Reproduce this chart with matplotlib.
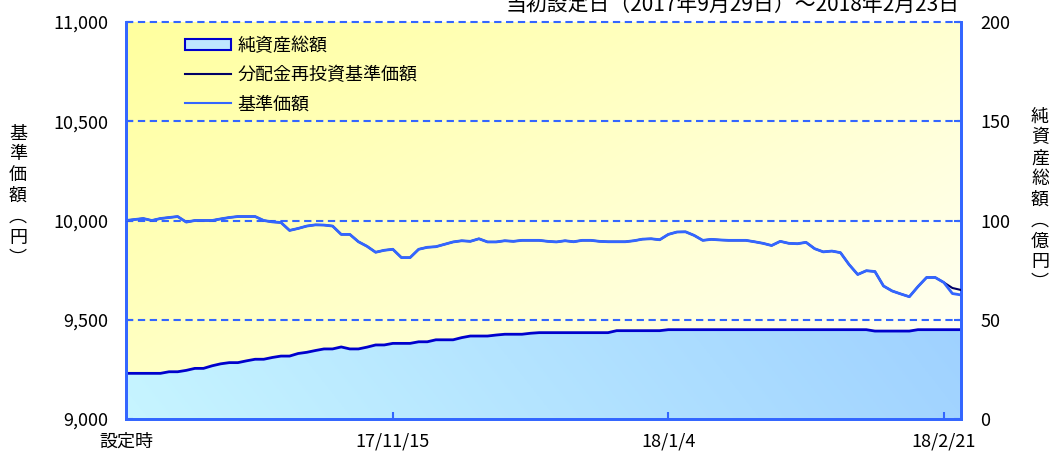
import numpy as np
import matplotlib
matplotlib.use("Agg")
import matplotlib.pyplot as plt
from matplotlib.patches import Patch
from matplotlib.lines import Line2D

plt.rcParams['font.family'] = ['Noto Sans CJK JP', 'DejaVu Sans']

# 営業日ごとの基準価額（円）
kijun = [10000, 10005, 10010, 10000, 10010, 10015, 10020, 9992, 10000, 10000,
         10000, 10008, 10015, 10020, 10020, 10020, 10000, 9993, 9990, 9950,
         9960, 9972, 9978, 9977, 9972, 9930, 9930, 9893, 9870, 9840,
         9850, 9855, 9813, 9813, 9855, 9865, 9868, 9880, 9892, 9898,
         9895, 9908, 9892, 9892, 9898, 9895, 9900, 9900, 9900, 9895,
         9892, 9898, 9893, 9900, 9900, 9895, 9893, 9893, 9893, 9898,
         9906, 9908, 9903, 9930, 9942, 9943, 9925, 9900, 9905, 9902,
         9900, 9900, 9900, 9893, 9885, 9874, 9895, 9885, 9883, 9890,
         9858, 9842, 9846, 9838, 9778, 9728, 9747, 9743, 9670, 9645,
         9630, 9616, 9667, 9713, 9713, 9688, 9632, 9625]
# 分配金再投資基準価額（円）
saitoshi = kijun[:96] + [9660, 9650]
# 純資産総額（億円）
junshisan = [23.0, 23.0, 23.0, 23.0, 23.0, 23.8, 23.8, 24.5, 25.5, 25.5,
             26.8, 27.8, 28.4, 28.4, 29.3, 30.1, 30.1, 31.0, 31.7, 31.7,
             33.0, 33.6, 34.5, 35.3, 35.3, 36.3, 35.3, 35.3, 36.2, 37.3,
             37.3, 38.1, 38.1, 38.1, 38.9, 38.9, 39.9, 39.9, 39.9, 41.0,
             41.8, 41.8, 41.8, 42.3, 42.7, 42.7, 42.7, 43.2, 43.5, 43.5,
             43.5, 43.5, 43.5, 43.5, 43.5, 43.5, 43.5, 44.5, 44.5, 44.5,
             44.5, 44.5, 44.5, 45.0, 45.0, 45.0, 45.0, 45.0, 45.0, 45.0,
             45.0, 45.0, 45.0, 45.0, 45.0, 45.0, 45.0, 45.0, 45.0, 45.0,
             45.0, 45.0, 45.0, 45.0, 45.0, 45.0, 45.0, 44.3, 44.3, 44.3,
             44.3, 44.3, 45.0, 45.0, 45.0, 45.0, 45.0, 45.0]

tick_pos = [0, 31, 63, 95]
tick_labels = ['設定時', '17/11/15', '18/1/4', '18/2/21']
y_ticks = [9000, 9500, 10000, 10500, 11000]
y2_ticks = [0, 50, 100, 150, 200]

blue = '#3366FF'
x = np.arange(len(kijun))

fig = plt.figure(figsize=(10.49, 4.55), dpi=100)
ax2 = fig.add_axes([126 / 1049, 36 / 455, 835 / 1049, 397 / 455])
ax = ax2.twinx()
ax.set_zorder(ax2.get_zorder() + 1)
ax.patch.set_visible(False)

# 背景のグラデーション（黄色→白）
g = np.linspace(0, 1, 256)
gx, gy = np.meshgrid(g, g[::-1])
t = np.clip((gx * 0.6 + (1 - gy) * 0.5), 0, 1)
c0 = np.array([1.0, 1.0, 0.62])
c1 = np.array([1.0, 1.0, 0.95])
bg = c0 + (c1 - c0) * t[..., None]
ax2.imshow(bg, extent=[0, 1, 0, 1], transform=ax2.transAxes, aspect='auto', zorder=0)

# 純資産総額（グラデーション塗り）
poly = ax2.fill_between(x, 0, junshisan, color='none', zorder=1)
f0 = np.array([0.78, 0.96, 1.0])
f1 = np.array([0.60, 0.80, 1.0])
fg = f0 + (f1 - f0) * np.clip(gx * 0.8 + gy * 0.3, 0, 1)[..., None]
im = ax2.imshow(fg, extent=[0, len(x) - 1, 0, 200], aspect='auto', zorder=1)
im.set_clip_path(poly.get_paths()[0], transform=ax2.transData)
ax2.plot(x, junshisan, color='#0000CC', lw=2, zorder=2)

ax2.set_xlim(0, len(x) - 1)
ax2.set_ylim(0, 200)

# 基準価額
for yv in [9500, 10000, 10500, 11000]:
    ax.axhline(yv, color=blue, lw=1.5, linestyle=(0, (3.5, 2.2)), zorder=1, clip_on=False)
ax.plot(x, saitoshi, color='#000066', lw=1.5, zorder=3)
ax.plot(x, kijun, color=blue, lw=2, zorder=4)
ax.set_ylim(9000, 11000)

# 軸の設定：左が基準価額、右が純資産総額
ax.yaxis.tick_left()
ax2.yaxis.tick_right()
ax.set_yticks(y_ticks)
ax.set_yticklabels([f'{v:,}' for v in y_ticks])
ax2.set_yticks(y2_ticks)
ax2.set_yticklabels([str(v) for v in y2_ticks])
ax2.set_xticks(tick_pos)
ax2.set_xticklabels(tick_labels)

for a in (ax, ax2):
    a.tick_params(axis='both', direction='in', length=5, width=1.5, color=blue,
                  labelsize=13, labelcolor='black')
    for s in ['left', 'right', 'bottom']:
        a.spines[s].set_color(blue)
        a.spines[s].set_linewidth(2)
    a.spines['top'].set_visible(False)
ax.tick_params(axis='y', pad=13)
ax2.tick_params(axis='y', pad=14)
ax2.tick_params(axis='x', pad=10)
ax2.xaxis.get_major_ticks()[0].tick1line.set_visible(False)

fig.text(18 / 1049, 1 - 196 / 455, '\n'.join('基準価額︵円︶'), ha='center', va='center',
         fontsize=13, linespacing=1.2)
fig.text(1040 / 1049, 1 - 200 / 455, '\n'.join('純資産総額︵億円︶'), ha='center', va='center',
         fontsize=13, linespacing=1.2)

fig.text(960 / 1049, 1 - 11 / 455, '当初設定日（2017年9月29日）～2018年2月23日',
         ha='right', va='baseline', fontsize=15)

handles = [Patch(facecolor='#BFE6FF', edgecolor='#0000CC', lw=1.5),
           Line2D([], [], color='#000066', lw=1.5),
           Line2D([], [], color=blue, lw=1.5)]
ax.legend(handles, ['純資産総額', '分配金再投資基準価額', '基準価額'], loc='upper left',
          bbox_to_anchor=(0.071, 0.962), frameon=False, fontsize=13, handlelength=2.55,
          handleheight=0.6, handletextpad=0.35, labelspacing=0.62, borderpad=0,
          borderaxespad=0)

fig.savefig('out.png', dpi=100)
